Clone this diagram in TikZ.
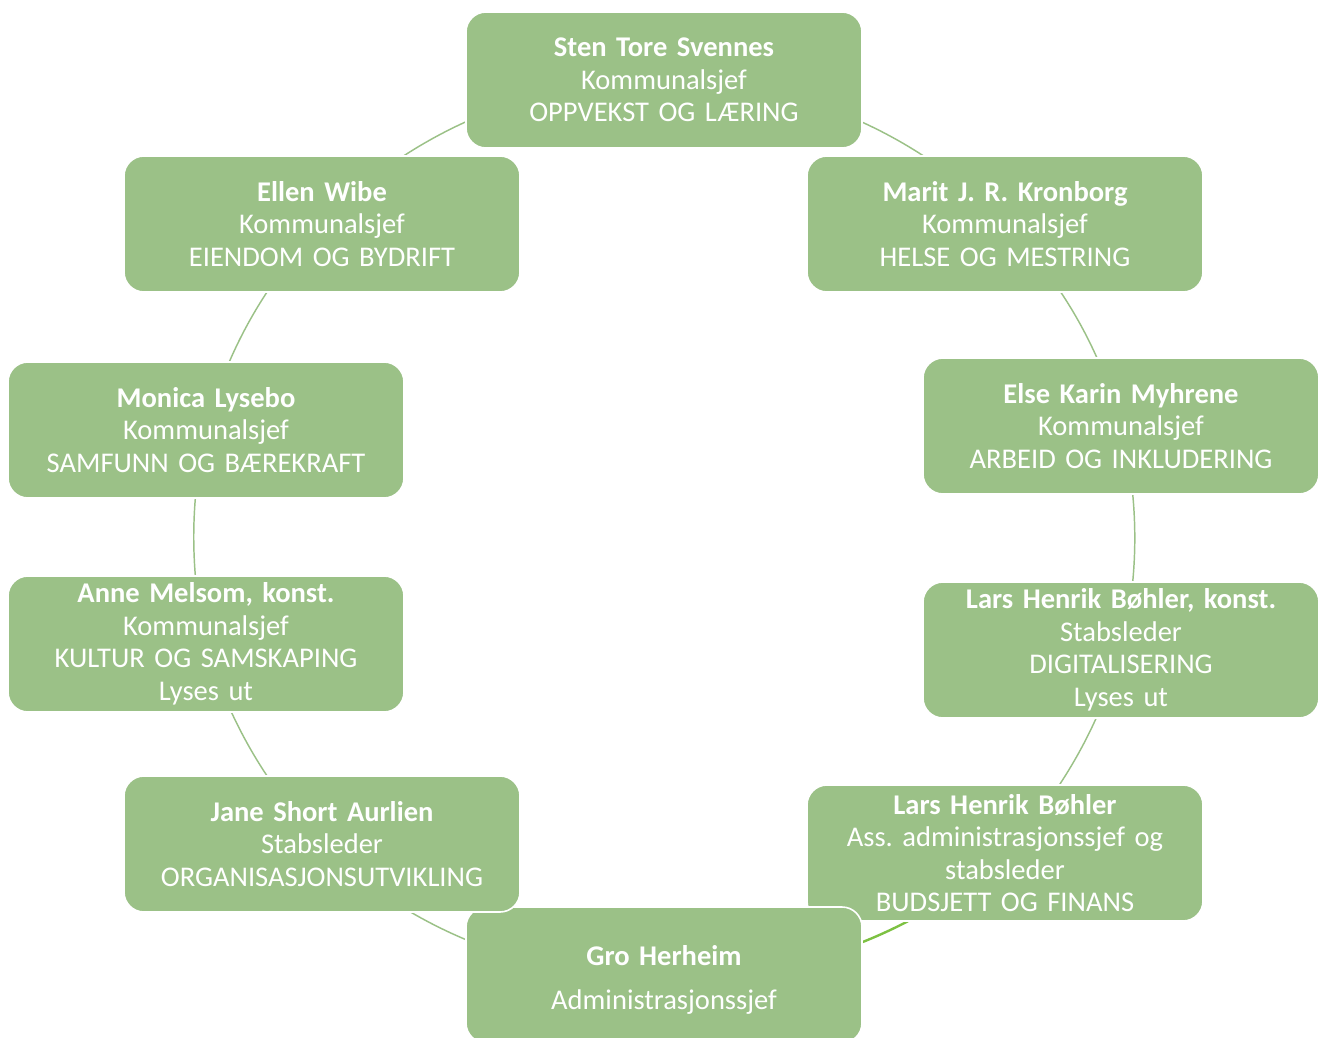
\documentclass[tikz,border=0pt]{standalone}
\usepackage{fontspec}
\setmainfont{Carlito}
\frenchspacing
\usetikzlibrary{backgrounds}
\definecolor{boxgreen}{HTML}{9BC187}
\definecolor{linkgreen}{HTML}{9BC187}
\definecolor{brightgreen}{HTML}{7DC142}

\begin{document}
\begin{tikzpicture}[x=0.75pt, y=-0.75pt,
    box/.style={rectangle, rounded corners=15pt, fill=boxgreen, draw=white, line width=1.2pt, minimum width=297pt, minimum height=102pt, text width=290pt, inner sep=2pt, align=center, text=white, font=\fontsize{21.4}{24.4}\selectfont},
    link/.style={draw=linkgreen, line width=1.1pt, looseness=0.87}]
    \useasboundingbox (0,0) rectangle (1327,1038);
    \node[box] (0) at (664, 80) {\textbf{Sten Tore Svennes}\\Kommunalsjef\\OPPVEKST OG LÆRING};
    \node[box] (1) at (1005, 224) {\textbf{Marit J. R. Kronborg}\\Kommunalsjef\\HELSE OG MESTRING};
    \node[box] (2) at (1121, 426) {\textbf{Else Karin Myhrene}\\Kommunalsjef\\ARBEID OG INKLUDERING};
    \node[box] (3) at (1121, 650) {\textbf{Lars Henrik Bøhler, konst.}\\Stabsleder\\DIGITALISERING\\Lyses ut};
    \node[box] (4) at (1005, 853) {\textbf{Lars Henrik Bøhler}\\Ass. administrasjonssjef og\\stabsleder\\BUDSJETT OG FINANS};
    \node[box] (5) at (664, 975) {\rule{0pt}{22pt}\textbf{Gro Herheim}\\[8.6pt]Administrasjonssjef};
    \node[box] (6) at (322, 844) {\textbf{Jane Short Aurlien}\\Stabsleder\\ORGANISASJONSUTVIKLING};
    \node[box] (7) at (206, 644) {\textbf{Anne Melsom, konst.}\\Kommunalsjef\\KULTUR OG SAMSKAPING\\Lyses ut};
    \node[box] (8) at (206, 430) {\textbf{Monica Lysebo}\\Kommunalsjef\\SAMFUNN OG BÆREKRAFT};
    \node[box] (9) at (322, 224) {\textbf{Ellen Wibe}\\Kommunalsjef\\EIENDOM OG BYDRIFT};
    \begin{scope}[on background layer]
        \draw[link] (0.center) to[bend left=24] (1.center);
        \draw[link] (1.center) to[bend left=15] (2.center);
        \draw[link] (2.center) to[bend left=14] (3.center);
        \draw[link] (3.center) to[bend left=14] (4.center);
        \draw[link, draw=brightgreen, line width=1.8pt] (4.center) to[bend left=23] (5.center);
        \draw[link] (5.center) to[bend left=24] (6.center);
        \draw[link] (6.center) to[bend left=14] (7.center);
        \draw[link] (7.center) to[bend left=13] (8.center);
        \draw[link] (8.center) to[bend left=15] (9.center);
        \draw[link] (9.center) to[bend left=24] (0.center);
    \end{scope}
\end{tikzpicture}
\end{document}
